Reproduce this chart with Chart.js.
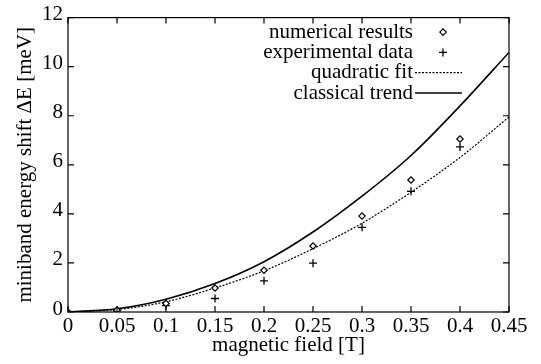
<!DOCTYPE html>
<html>
<head>
<meta charset="utf-8">
<script src="https://cdn.jsdelivr.net/npm/chart.js@4.4.0/dist/chart.umd.min.js"></script>
<style>
  html, body { margin: 0; padding: 0; background: #fff; }
  #wrap { width: 541px; height: 364px; position: relative; }
  #fontwarm { position: absolute; left: -9999px; top: 0; font-family: "Liberation Serif", "Times New Roman", serif; font-size: 21px; }
</style>
</head>
<body>
<div id="fontwarm">magnetic field [T] 0.45 ΔE</div>
<div id="wrap"><canvas id="c" width="541" height="364"></canvas></div>
<script>
// ---- data ----
const fieldPoints = [0, 0.05, 0.1, 0.15, 0.2, 0.25, 0.3, 0.35, 0.4];
const numericalResults = [0, 0.08, 0.35, 0.98, 1.70, 2.69, 3.91, 5.38, 7.05];
const experimentalData = [0, 0.05, 0.26, 0.55, 1.27, 1.99, 3.45, 4.92, 6.73];
const fieldCurve = [0, 0.05, 0.1, 0.15, 0.2, 0.25, 0.3, 0.35, 0.4, 0.45];
const quadraticFit = [0, 0.1, 0.42, 0.98, 1.68, 2.58, 3.62, 4.88, 6.3, 7.95];
const classicalTrend = [0, 0.13, 0.52, 1.16, 2.05, 3.26, 4.72, 6.38, 8.4, 10.58];
const xTicks = [0, 0.05, 0.1, 0.15, 0.2, 0.25, 0.3, 0.35, 0.4, 0.45];
const yTicks = [0, 2, 4, 6, 8, 10, 12];
const seriesLabels = ['numerical results', 'experimental data', 'quadratic fit', 'classical trend'];

const FONT = '"Liberation Serif", "Times New Roman", serif';
const pts = (xs, ys) => xs.map((x, i) => ({ x: x, y: ys[i] }));

const frameTicks = {
  id: 'frameTicks',
  afterDatasetsDraw(chart) {
    const { ctx, chartArea: a, scales } = chart;
    ctx.save();
    ctx.strokeStyle = '#000';
    ctx.lineWidth = 1.2;
    ctx.strokeRect(a.left, a.top, a.right - a.left, a.bottom - a.top);
    const L = 6;
    ctx.beginPath();
    xTicks.forEach(v => {
      const px = scales.x.getPixelForValue(v);
      ctx.moveTo(px, a.bottom); ctx.lineTo(px, a.bottom - L);
      ctx.moveTo(px, a.top); ctx.lineTo(px, a.top + L);
    });
    yTicks.forEach(v => {
      const py = scales.y.getPixelForValue(v);
      ctx.moveTo(a.left, py); ctx.lineTo(a.left + L, py);
      ctx.moveTo(a.right, py); ctx.lineTo(a.right - L, py);
    });
    ctx.stroke();
    ctx.restore();
  }
};

const keyLegend = {
  id: 'keyLegend',
  afterDraw(chart) {
    const { ctx, chartArea: a } = chart;
    ctx.save();
    ctx.font = '21px ' + FONT;
    ctx.textAlign = 'right';
    ctx.textBaseline = 'middle';
    const textRight = 413, symX = 443, lineL = 415, lineR = 462;
    chart.data.datasets.forEach((ds, i) => {
      const y = a.top + 14.5 + i * 20.3;
      ctx.fillStyle = '#000';
      ctx.fillText(ds.label, textRight, y);
      ctx.save();
      if (ds.showLine === false) {
        ctx.strokeStyle = '#000';
        ctx.fillStyle = '#fff';
        ctx.lineWidth = ds.pointBorderWidth;
        Chart.helpers.drawPoint(ctx, { pointStyle: ds.pointStyle, radius: ds.pointRadius, rotation: 0, borderWidth: ds.pointBorderWidth }, symX, y);
      } else {
        ctx.strokeStyle = '#000';
        ctx.lineWidth = ds.borderWidth;
        ctx.setLineDash(ds.borderDash || []);
        ctx.beginPath();
        ctx.moveTo(lineL, y); ctx.lineTo(lineR, y);
        ctx.stroke();
      }
      ctx.restore();
    });
    ctx.restore();
  }
};

function build() {
  new Chart(document.getElementById('c'), {
    type: 'scatter',
    data: {
      datasets: [
        { label: seriesLabels[0], data: pts(fieldPoints, numericalResults), showLine: false,
          pointStyle: 'rectRot', pointRadius: 3.2, pointBorderWidth: 1.2,
          borderColor: '#000', backgroundColor: '#fff', pointBackgroundColor: '#fff', pointBorderColor: '#000' },
        { label: seriesLabels[1], data: pts(fieldPoints, experimentalData), showLine: false,
          pointStyle: 'cross', pointRadius: 4, pointBorderWidth: 1.3,
          borderColor: '#000', backgroundColor: '#000', pointBorderColor: '#000' },
        { label: seriesLabels[2], data: pts(fieldCurve, quadraticFit), showLine: true,
          borderColor: '#000', borderWidth: 1.2, borderDash: [2, 1.5], pointRadius: 0,
          cubicInterpolationMode: 'monotone' },
        { label: seriesLabels[3], data: pts(fieldCurve, classicalTrend), showLine: true,
          borderColor: '#000', borderWidth: 1.6, pointRadius: 0,
          cubicInterpolationMode: 'monotone' }
      ]
    },
    options: {
      responsive: false,
      animation: false,
      layout: { padding: { top: 7, right: 32, left: 0, bottom: 0 } },
      plugins: { legend: { display: false }, tooltip: { enabled: false } },
      scales: {
        x: {
          type: 'linear', min: 0, max: 0.45,
          afterBuildTicks: s => { s.ticks = xTicks.map(v => ({ value: v })); },
          afterFit: s => { s.height = 52; },
          grid: { display: false, drawTicks: false },
          border: { display: false },
          ticks: { color: '#000', font: { family: FONT, size: 21 }, padding: 2, maxRotation: 0,
            callback: v => String(v) },
          title: { display: true, text: 'magnetic field [T]', color: '#000',
            font: { family: FONT, size: 21 }, padding: { top: 0, bottom: 6 } }
        },
        y: {
          type: 'linear', min: 0, max: 12,
          afterBuildTicks: s => { s.ticks = yTicks.map(v => ({ value: v })); },
          afterFit: s => { s.width = 68; },
          grid: { display: false, drawTicks: false },
          border: { display: false },
          ticks: { color: '#000', font: { family: FONT, size: 21 }, padding: 5, labelOffset: -3 },
          title: { display: true, text: 'miniband energy shift ΔE [meV]', color: '#000',
            font: { family: FONT, size: 21 }, padding: { top: 13, bottom: 0 } }
        }
      }
    },
    plugins: [frameTicks, keyLegend]
  });
}

Chart.defaults.font.family = FONT;
if (document.fonts && document.fonts.load) {
  document.fonts.load('21px "Liberation Serif"').then(build, build);
} else {
  build();
}
</script>
</body>
</html>
